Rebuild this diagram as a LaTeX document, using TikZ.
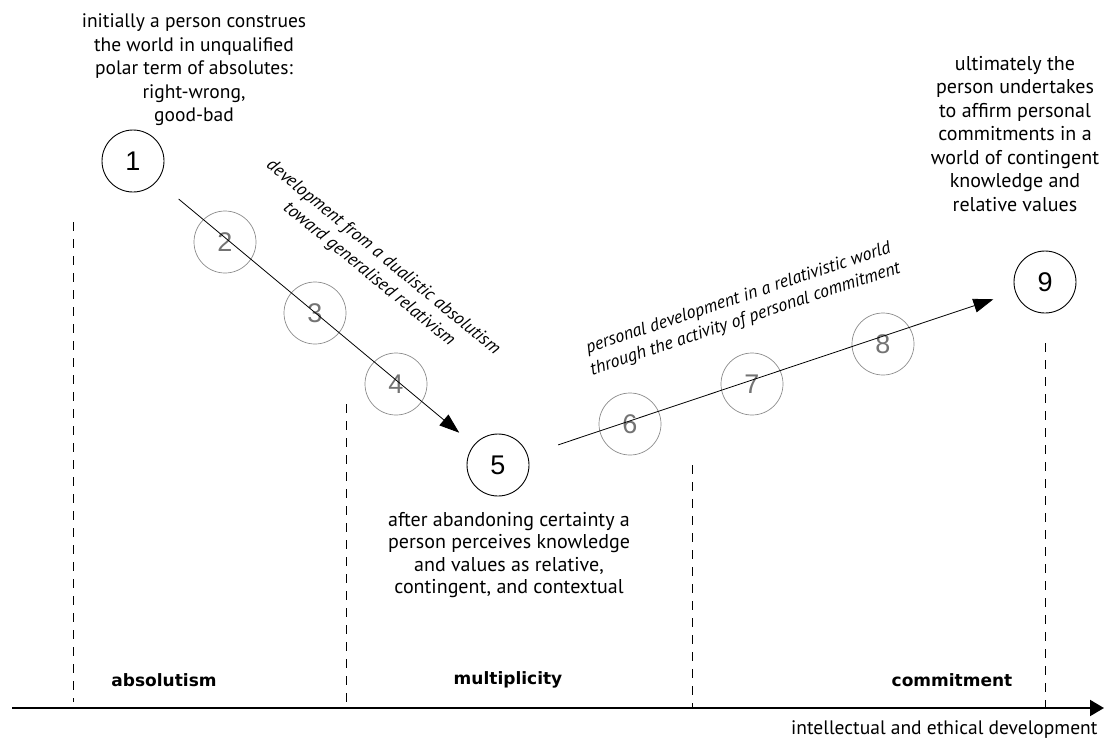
\documentclass[tikz,border=0pt]{standalone}
\usepackage{fontspec}
\setmainfont{PT Sans}
\newfontfamily\numfont{Liberation Sans}
\newfontfamily\phasefont{DejaVu Sans}
\usetikzlibrary{arrows.meta}
\newcommand{\Divider}[3]{
    \draw[divider] (#1,#2) -- (#1,#3);
}

\begin{document}
\begin{tikzpicture}[x=1pt, y=-1pt,
    stage/.style={circle, draw=black, line width=0.9pt, minimum size=62pt, inner sep=0pt, font=\numfont\fontsize{27}{27}\selectfont},
    substage/.style={stage, draw=black!45, line width=0.7pt, text=black!55},
    note/.style={align=center, font=\fontsize{19.5}{23.5}\selectfont},
    slant/.style={align=center, font=\itshape\fontsize{18}{22}\selectfont},
    phase/.style={font=\phasefont\bfseries\fontsize{17}{20}\selectfont},
    divider/.style={black, line width=1pt, dash pattern=on 9pt off 8pt},
    flow/.style={-{Triangle[length=20pt, width=14pt]}, line width=0.8pt}]
    \useasboundingbox (0,0) rectangle (1104,740);

    \node[stage] (s1) at (133,161) {1};
    \node[substage] (s2) at (225,242) {2};
    \node[substage] (s3) at (315,313) {3};
    \node[substage] (s4) at (396,384) {4};
    \node[stage] (s5) at (498,465) {5};
    \node[substage] (s6) at (630,424) {6};
    \node[substage] (s7) at (752,384) {7};
    \node[substage] (s8) at (883,344) {8};
    \node[stage] (s9) at (1045,282) {9};

    \draw[flow, shorten <=28pt, shorten >=19pt] (s1) -- (s5);
    \draw[flow, shorten <=32pt, shorten >=23pt] (s5) -- (s9);

    \node[note] (start) at (194,70) {initially a person construes\\the world in unqualified\\polar term of absolutes:\\right-wrong,\\good-bad};
    \node[note, font=\fontsize{20}{22.5}\selectfont] (middle) at (509,555) {after abandoning certainty a\\person perceives knowledge\\and values as relative,\\contingent, and contextual};
    \node[note, font=\fontsize{20}{23.5}\selectfont] (final) at (1015,134) {ultimately the\\person undertakes\\to affirm personal\\commitments in a\\world of contingent\\knowledge and\\relative values};

    \node[slant, rotate=-39.4] (down) at (376,266) {development from a dualistic absolutism\\toward generalised relativism};
    \node[slant, rotate=18.4] (up) at (742,309) {personal development in a relativistic world\\through the activity of personal commitment};

    \Divider{73}{222}{702}
    \Divider{346}{404}{702}
    \Divider{692}{465}{708}
    \Divider{1045}{343}{708}

    \coordinate (origin) at (12,708);
    \coordinate (far) at (1104,708);
    \draw[line width=2pt, -{Triangle[length=14pt, width=16pt]}] (origin) -- (far);

    \node[phase] (abs) at (164,680) {absolutism};
    \node[phase] (mul) at (508,680) {multiplicity};
    \node[phase] (com) at (952,680) {commitment};
    \node[note, anchor=east] (axis) at (1101,730) {intellectual and ethical development};
\end{tikzpicture}
\end{document}
